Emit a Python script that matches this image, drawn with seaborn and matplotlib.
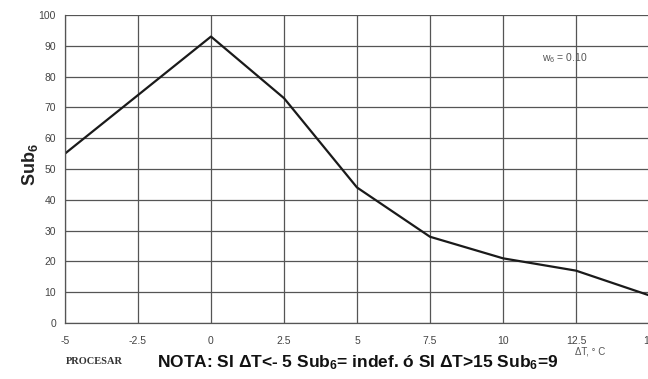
import matplotlib
matplotlib.use("Agg")
import matplotlib.pyplot as plt
import seaborn as sns
import pandas as pd

delta_t = [-5, 0, 2.5, 5, 7.5, 10, 12.5, 15]
sub6 = [55, 93, 73, 44, 28, 21, 17, 9]
x_ticks = [-5, -2.5, 0, 2.5, 5, 7.5, 10, 12.5, 15]
x_tick_labels = ["-5", "-2.5", "0", "2.5", "5", "7.5", "10", "12.5", "15"]
y_ticks = list(range(0, 101, 10))

sns.set_style("white")
plt.rcParams['font.family'] = ['Liberation Sans', 'DejaVu Sans']
plt.rcParams['mathtext.fontset'] = 'custom'
plt.rcParams['mathtext.rm'] = 'Liberation Sans'
plt.rcParams['mathtext.bf'] = 'Liberation Sans:bold'
plt.rcParams['mathtext.it'] = 'Liberation Sans:italic'

df = pd.DataFrame({"dT": delta_t, "sub": sub6})

fig = plt.figure(figsize=(6.48, 3.79), dpi=100)
ax = fig.add_axes([65/648, (379-323)/379, 584/648, (323-15)/379])

sns.lineplot(data=df, x="dT", y="sub", ax=ax, color="#1a1a1a", linewidth=1.6)

ax.set_xlim(-5, 15)
ax.set_ylim(0, 100)
ax.set_xticks(x_ticks)
ax.set_xticklabels(x_tick_labels)
ax.set_yticks(y_ticks)
ax.grid(True, color="#555555", linewidth=0.9)
ax.set_axisbelow(True)
for s in ["top", "right"]:
    ax.spines[s].set_visible(False)
for s in ["left", "bottom"]:
    ax.spines[s].set_color("#555555")
    ax.spines[s].set_linewidth(0.9)
ax.tick_params(axis="both", labelsize=7.5, colors="#555555", length=3, width=0.8,
               labelcolor="#444444", direction="out")
ax.tick_params(axis="x", pad=6)
ax.set_xlabel("")
ax.set_ylabel("")

fig.text(30/648, 1 - 165/379, r"Sub$_\mathbf{6}$", rotation=90, ha="center", va="center",
         fontsize=13, fontweight="bold", color="#222222")
ax.text(11.35, 86, r"w$_6$ = 0.10", fontsize=7.5, color="#555555", ha="left", va="center")
fig.text(590/648, 1 - 352/379, "ΔT, ° C", fontsize=7, color="#555555", ha="center", va="center")
fig.text(94/648, 1 - 362/379, "PROCESAR", fontsize=7.5, fontweight="bold", color="#333333",
         ha="center", va="center", family=["Liberation Serif", "DejaVu Serif"])
fig.text(358/648, 1 - 363/379,
         r"NOTA: SI ΔT<- 5 Sub$_\mathbf{6}$= indef. ó SI ΔT>15 Sub$_\mathbf{6}$=9",
         fontsize=12.5, fontweight="bold", color="#111111", ha="center", va="center")

fig.savefig("out.png", dpi=100)
